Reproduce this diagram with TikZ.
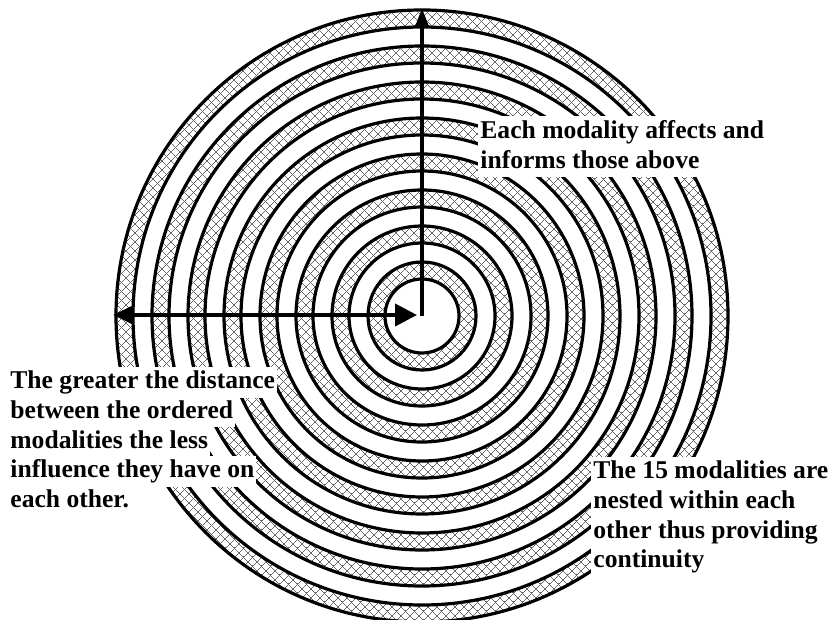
\documentclass[tikz,border=0pt]{standalone}
\usepackage{fontspec}
\setmainfont{Liberation Serif}
\usetikzlibrary{positioning, arrows.meta, patterns.meta}

\tikzdeclarepattern{name=modhatch, type=uncolored,
  bottom left={(-.1pt,-.1pt)}, top right={(4.6pt,4.6pt)}, tile size={(4.5pt,4.5pt)},
  line width=.35pt,
  code={\draw (0,0) -- (4.5pt,4.5pt); \draw (0,4.5pt) -- (4.5pt,0);}}

\tikzset{
  ring/.style={line width=1.6pt},
  hatchring/.style={pattern=modhatch, pattern color=black!60, even odd rule},
  axis/.style={line width=2pt},
  txtline/.style={fill=white, inner xsep=1pt, inner ysep=1pt, anchor=west,
    text height=10pt, text depth=3.5pt, font=\bfseries\fontsize{12.8}{14.5}\selectfont}
}

\begin{document}
\begin{tikzpicture}[x=0.5pt, y=-0.5pt]
  \useasboundingbox (0,0) rectangle (840,620);

  \coordinate (centre) at (422,316);
  \coordinate (top) at (422,8);
  \coordinate (leftend) at (113,315);
  \coordinate (rightend) at (417,315);

  % the nested modalities
  \foreach \r in {37,73,...,289} {
    \fill[hatchring] (centre) circle[radius=\r+17] (centre) circle[radius=\r];
    \draw[ring] (centre) circle[radius=\r] (centre) circle[radius=\r+17];
  }

  % arrows
  \draw[axis, -{Triangle[length=10pt, width=7pt]}] (centre) -- (top);
  \draw[axis, {Triangle[length=10pt, width=9pt]}-{Triangle[length=11pt, width=11pt]}]
    (leftend) -- (rightend);

  % labels
  \node[txtline] (above1) at (478,132) {Each modality affects and};
  \node[txtline, below=-1pt of above1.south west, anchor=north west] (above2) {informs those above};

  \node[txtline] (dist1) at (8,382) {The greater the distance};
  \node[txtline, below=-1pt of dist1.south west, anchor=north west] (dist2) {between the ordered};
  \node[txtline, below=-1pt of dist2.south west, anchor=north west] (dist3) {modalities the less};
  \node[txtline, below=-1pt of dist3.south west, anchor=north west] (dist4) {influence they have on};
  \node[txtline, below=-1pt of dist4.south west, anchor=north west] (dist5) {each other.};

  \node[txtline] (nest1) at (591,472) {The 15 modalities are};
  \node[txtline, below=-1pt of nest1.south west, anchor=north west] (nest2) {nested within each};
  \node[txtline, below=-1pt of nest2.south west, anchor=north west] (nest3) {other thus providing};
  \node[txtline, below=-1pt of nest3.south west, anchor=north west] (nest4) {continuity};
\end{tikzpicture}
\end{document}
